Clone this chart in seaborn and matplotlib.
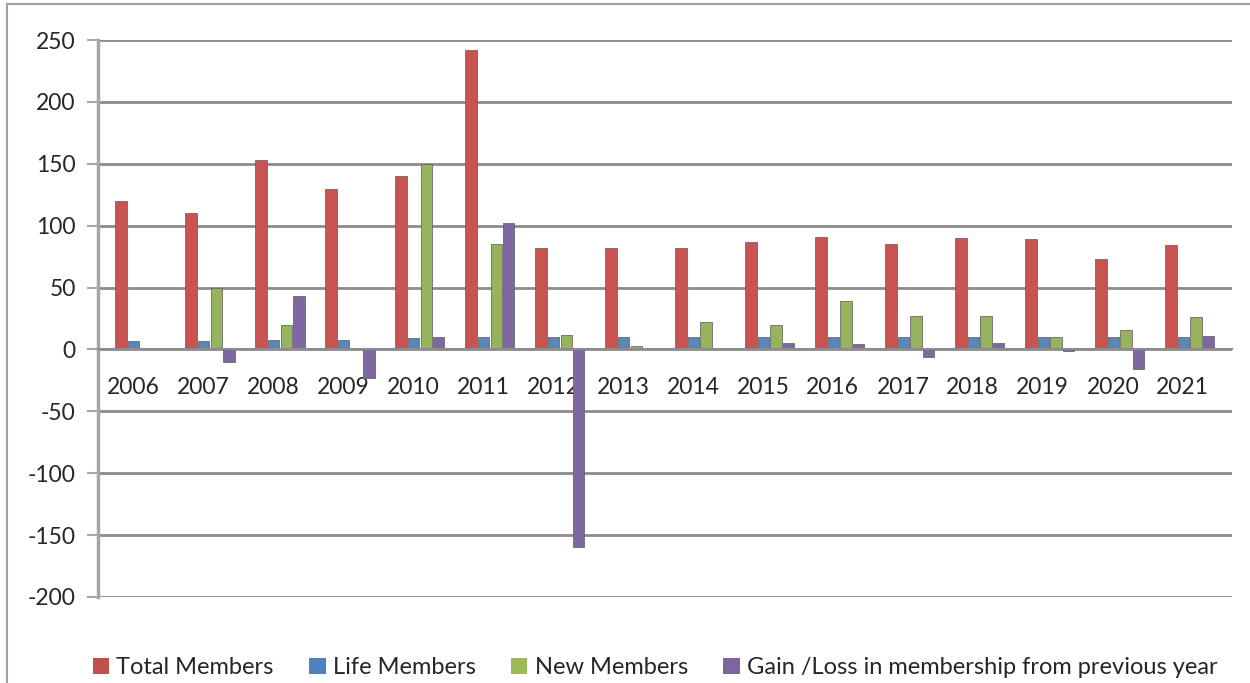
import pandas as pd
import matplotlib.pyplot as plt
import seaborn as sns
from matplotlib.patches import Patch, Rectangle

years = [str(y) for y in range(2006, 2022)]
total_members = [120, 110, 153, 130, 140, 242, 82, 82, 82, 87, 91, 85, 90, 89, 73, 84]
life_members = [7, 7, 8, 8, 9, 10, 10, 10, 10, 10, 10, 10, 10, 10, 10, 10]
new_members = [None, 50, 20, 1, 150, 85, 12, 3, 22, 20, 39, 27, 27, 10, 16, 26]
gain_loss = [None, -10, 43, -23, 10, 102, -160, 0, 0, 5, 4, -6, 5, -1, -16, 11]

series = ['Total Members', 'Life Members', 'New Members',
          'Gain /Loss in membership from previous year']
bar_colors = ['#DC403D', '#4A86C8', '#9DC24E', '#7E5EAA']
legend_colors = ['#C0504D', '#4F81BD', '#9BBB59', '#8064A2']

df = pd.DataFrame({'year': years,
                   series[0]: total_members,
                   series[1]: life_members,
                   series[2]: new_members,
                   series[3]: gain_loss})
long = df.melt(id_vars='year', var_name='series', value_name='value').dropna()

sns.set_style('white')
plt.rcParams['font.family'] = ['Lato', 'DejaVu Sans']
plt.rcParams['axes.unicode_minus'] = False

fig = plt.figure(figsize=(12.5, 6.83), dpi=100)
ax = fig.add_axes([0.0784, 0.126, 0.907, 0.8154])

sns.barplot(data=long, x='year', y='value', hue='series', order=years,
            hue_order=series, palette=bar_colors, width=0.72, gap=0.1,
            edgecolor='#6a6a6a', linewidth=0.6, legend=False, ax=ax)

# groups sit slightly right of the category centre (3d look)
for p in ax.patches:
    p.set_x(p.get_x() + 0.1)

ax.set_ylim(-200, 250)
ax.set_xlim(-0.5, 15.7)
ax.set_yticks(range(-200, 251, 50))
ax.yaxis.grid(True, color='#8c8c8c', linewidth=2)
ax.set_axisbelow(True)
ax.set_xlabel('')
ax.set_ylabel('')

for s in ['top', 'right']:
    ax.spines[s].set_visible(False)
ax.spines['left'].set_color('#a6a6a6')
ax.spines['left'].set_linewidth(2.5)
ax.spines['bottom'].set_position(('data', 0))
ax.spines['bottom'].set_color('#8c8c8c')
ax.spines['bottom'].set_linewidth(1.5)

ax.set_xticks(range(16))
ax.set_xticklabels(years)
ax.set_xticks([i - 0.5 for i in range(1, 17)], minor=True)
ax.tick_params(axis='x', which='major', length=0, pad=20, labelsize=16.5)
ax.tick_params(axis='x', which='minor', length=6, width=1.5, color='#8c8c8c',
               direction='out')
ax.tick_params(axis='y', length=8, width=1.5, color='#a6a6a6', left=True,
               labelsize=16.5, pad=8)

handles = [Patch(facecolor=c, edgecolor='none') for c in legend_colors]
fig.legend(handles, series, loc='center', bbox_to_anchor=(0.524, 0.022),
           ncol=4, frameon=False, fontsize=17, handlelength=0.7,
           handleheight=0.7, handletextpad=0.3, columnspacing=1.5)

fig.patches.append(Rectangle((7 / 1250, -0.05), 1.1, 1.05 - 4 / 683,
                             transform=fig.transFigure, fill=False,
                             edgecolor='#a0a0a0', linewidth=1.5))

fig.savefig('out.png', dpi=100, facecolor='white')
